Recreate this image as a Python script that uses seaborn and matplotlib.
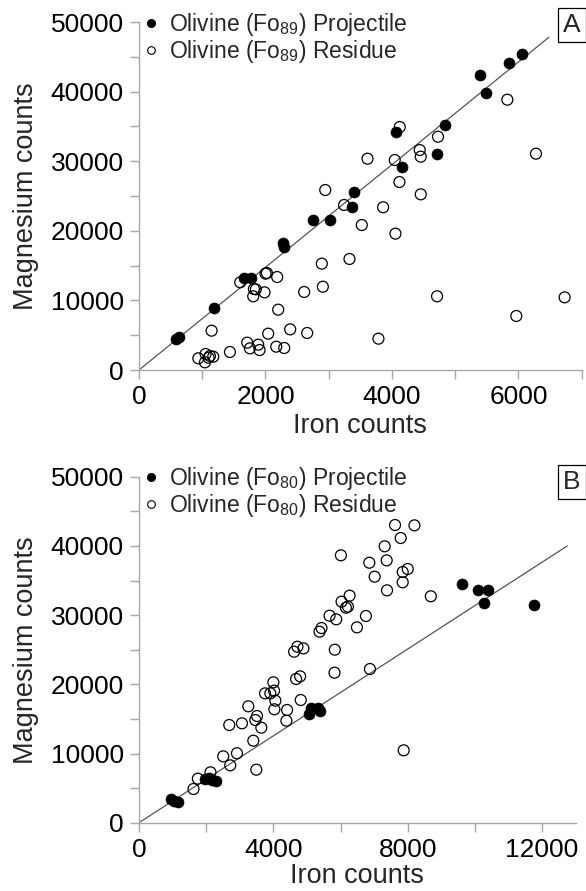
import matplotlib
matplotlib.use("Agg")
import matplotlib.pyplot as plt
import seaborn as sns
import pandas as pd
from matplotlib.lines import Line2D
from matplotlib.ticker import MultipleLocator

sns.set_theme(style="white")
plt.rcParams['font.family'] = ['Liberation Sans', 'DejaVu Sans']
plt.rcParams['mathtext.fontset'] = 'custom'
plt.rcParams['mathtext.rm'] = 'Liberation Sans'
plt.rcParams['mathtext.it'] = 'Liberation Sans:italic'

# ---------------- Panel A data (Fo89) ----------------
a_proj_fe = [580, 630, 1190, 1664, 1764, 2280, 2296, 2744, 3017, 3375, 3397,
             4155, 4060, 4718, 4834, 5398, 5482, 5845, 6055]
a_proj_mg = [4400, 4700, 8865, 13175, 13260, 18200, 17720, 21550, 21550, 23460, 25620,
             29210, 34200, 31030, 35160, 42340, 39840, 44150, 45450]

a_res_fe = [4123, 4728, 4439, 4455, 3613, 4044, 5824, 6277, 4118, 2945, 4455,
            3243, 3860, 3523, 4055, 2891, 3328, 2907, 2022, 2001, 2185, 1601,
            1817, 1848, 1806, 1985, 2612, 2201, 4713, 5966, 6730, 1148, 2043,
            2391, 2659, 3786, 1438, 1711, 1754, 1885, 1906, 2170, 2296, 938,
            1053, 1043, 1100, 1174, 1122]
a_res_mg = [34910, 33520, 31610, 30650, 30360, 30170, 38840, 31080, 27010, 25860, 25240,
            23710, 23380, 20830, 19590, 15280, 15950, 11970, 13940, 13840, 13360, 12600,
            11640, 11590, 10590, 11160, 11210, 8670, 10590, 7760, 10440, 5650, 5220,
            5840, 5320, 4500, 2590, 3930, 3110, 3640, 2870, 3350, 3160, 1680,
            2300, 1100, 1770, 1910, 2010]

a_line_fe = [0, 6480]
a_line_mg = [0, 47800]

# ---------------- Panel B data (Fo80) ----------------
b_proj_fe = [9612, 10090, 10400, 10260, 11750, 5065, 5114, 5334, 5403,
             1961, 2080, 2170, 2298, 955, 1036, 1164]
b_proj_mg = [34450, 33625, 33580, 31790, 31410, 15710, 16530, 16530, 16140,
             6270, 6460, 6170, 6070, 3380, 3180, 2950]

b_res_fe = [7622, 8200, 7790, 7313, 6010, 6856, 7373, 7015, 7850, 8000, 7850,
            7383, 8687, 6269, 6030, 6219, 6160, 5672, 6756, 5871, 6487, 5373,
            5433, 4618, 4716, 4895, 5830, 5821, 6875, 4677, 4797, 4000, 3752,
            3910, 4020, 4060, 4815, 4030, 4408, 4388, 3254, 3513, 3463, 3642,
            3065, 2687, 3403, 2916, 2507, 2716, 3493, 7880, 2128, 1752, 1622]
b_res_mg = [43020, 42970, 41140, 39940, 38640, 37570, 37910, 35550, 36230, 36660, 34740,
            33580, 32720, 32810, 31940, 31220, 31070, 29910, 29870, 29390, 28230, 27600,
            28130, 24710, 25430, 25190, 25000, 21680, 22210, 20770, 21150, 20290, 18690,
            18690, 19080, 17630, 17730, 16390, 16290, 14740, 16820, 15420, 14840, 13730,
            14360, 14120, 11850, 10030, 9590, 8290, 7660, 10460, 7280, 6360, 4870]

b_line_fe = [0, 12750]
b_line_mg = [0, 40000]

x_label = "Iron counts"
y_label = "Magnesium counts"
legend_A = ["Olivine (Fo$_{89}$) Projectile", "Olivine (Fo$_{89}$) Residue"]
legend_B = ["Olivine (Fo$_{80}$) Projectile", "Olivine (Fo$_{80}$) Residue"]

W, H = 586, 891
fig = plt.figure(figsize=(W / 100, H / 100), dpi=100)

def fx(px):
    return px / W

def fy(py):
    return 1 - py / H

axA = fig.add_axes([fx(139), fy(370), fx(581.7) - fx(139), fy(22) - fy(370)])
axB = fig.add_axes([fx(139), fy(822.7), fx(575.7) - fx(139), fy(476.7) - fy(822.7)])

FS_TICK = 19
FS_LAB = 19.5
FS_LEG = 16.5
spine_col = "#a8a8a8"

def draw(ax, pfe, pmg, rfe, rmg, lfe, lmg, xlim, xmaj, xmin, labels, letter,
         leg_top_px, box_px, xlabpad):
    ax.plot(lfe, lmg, color="#555555", lw=0.9, zorder=1)
    sns.scatterplot(x=rfe, y=rmg, ax=ax, marker="o", s=62, facecolor="none",
                    edgecolor="black", linewidth=0.9, zorder=2, legend=False)
    sns.scatterplot(x=pfe, y=pmg, ax=ax, marker="o", s=62, color="black",
                    edgecolor="black", linewidth=0.5, zorder=3, legend=False)
    ax.set_xlim(*xlim)
    ax.set_ylim(0, 50000)
    ax.xaxis.set_major_locator(MultipleLocator(xmaj))
    ax.xaxis.set_minor_locator(MultipleLocator(xmin))
    ax.yaxis.set_major_locator(MultipleLocator(10000))
    ax.yaxis.set_minor_locator(MultipleLocator(5000))
    for s in ["top", "right"]:
        ax.spines[s].set_visible(False)
    for s in ["left", "bottom"]:
        ax.spines[s].set_color(spine_col)
        ax.spines[s].set_linewidth(1.0)
    ax.tick_params(which="both", direction="out", length=6.5, width=1.0,
                   color=spine_col, labelsize=FS_TICK, labelcolor="black", pad=4.5)
    ax.tick_params(which="both", bottom=True, left=True)
    ax.set_xlabel(x_label, fontsize=FS_LAB, labelpad=xlabpad)
    ax.set_ylabel(y_label, fontsize=FS_LAB, labelpad=8)
    ax.set_facecolor("white")
    ax.grid(False)
    handles = [Line2D([], [], ls="", marker="o", markersize=5.5, color="black"),
               Line2D([], [], ls="", marker="o", markersize=5.5, markerfacecolor="white",
                      markeredgecolor="black", markeredgewidth=0.8)]
    fig.legend(handles, labels, loc="upper left",
               bbox_to_anchor=(fx(145), fy(leg_top_px)), frameon=False,
               fontsize=FS_LEG, handlelength=0.55, handletextpad=0.5,
               labelspacing=0.0, borderpad=0.0, borderaxespad=0.0)
    fig.text(fx(box_px[0]), fy(box_px[1]), letter, fontsize=19, ha="center", va="center",
             bbox=dict(boxstyle="square,pad=0.2", facecolor="white",
                       edgecolor="black", linewidth=0.9))

draw(axA, a_proj_fe, a_proj_mg, a_res_fe, a_res_mg, a_line_fe, a_line_mg,
     (0, 7000), 2000, 1000, legend_A, "A", 11, (572, 25), 3.0)
draw(axB, b_proj_fe, b_proj_mg, b_res_fe, b_res_mg, b_line_fe, b_line_mg,
     (0, 13000), 4000, 2000, legend_B, "B", 465, (572, 482), 0.5)

fig.savefig("out.png", dpi=100, facecolor="white")
